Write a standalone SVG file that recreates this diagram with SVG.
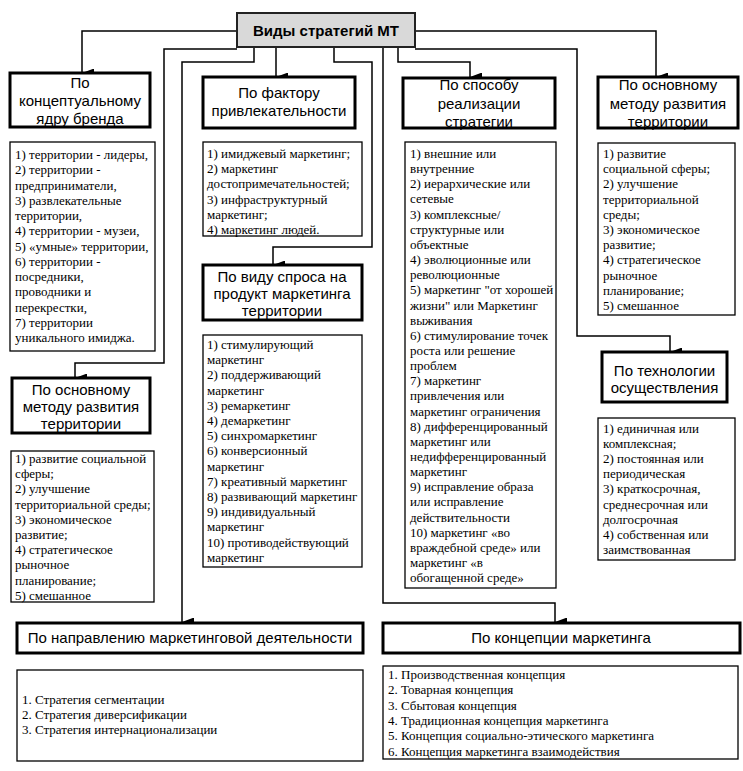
<svg xmlns="http://www.w3.org/2000/svg" width="743" height="771" viewBox="0 0 743 771">
<style>
.bg{fill:#fff}
.root{fill:#d9d9d9;stroke:#222;stroke-width:2}
.hdr{fill:#fff;stroke:#000;stroke-width:3}
.itm{fill:#fff;stroke:#000;stroke-width:1.3}
.rt{font-family:"Liberation Sans",Arial,sans-serif;font-size:15px;font-weight:bold;text-anchor:middle;fill:#000}
.ht{font-family:"Liberation Sans",Arial,sans-serif;font-size:15px;text-anchor:middle;fill:#000}
.it{font-family:"Liberation Serif","Times New Roman",serif;font-size:13px;fill:#000}
.conn path{fill:none;stroke:#000;stroke-width:1.5}
</style>
<defs>
<marker id="arr" markerUnits="userSpaceOnUse" markerWidth="10" markerHeight="12" refX="4.5" refY="12" orient="auto-start-reverse" viewBox="0 0 10 12">
<path d="M0,0 L9,0 L4.5,12 z" fill="#000"/>
</marker>
</defs>
<rect class="bg" x="0" y="0" width="743" height="771"/>

<g id="connectors" class="conn">
<path d="M237,31 H82 V73" marker-end="url(#arr)"/>
<path d="M254,47 V62 H182 V622" marker-end="url(#arr)"/>
<path d="M276,47 V77" marker-end="url(#arr)"/>
<path d="M334,47 V62 H372 V247 H273 V265" marker-end="url(#arr)"/>
<path d="M383,47 V603 H555 V622" marker-end="url(#arr)"/>
<path d="M398,47 V62 H470 V77" marker-end="url(#arr)"/>
<path d="M415,31 H656 V77" marker-end="url(#arr)"/>
<path d="M415,49 H577 V336 H670 V352" marker-end="url(#arr)"/>
<path d="M237,49 H164 V363 H75 V378" marker-end="url(#arr)"/>
</g>

<g id="root">
<rect class="root" x="237" y="13" width="178" height="34"/>
<text class="rt" x="326" y="36">Виды стратегий МТ</text>
</g>

<g id="brand-core">
<rect class="hdr" x="10" y="73" width="140" height="54"/>
<text class="ht"><tspan x="80" y="88">По</tspan><tspan x="80" y="106">концептуальному</tspan><tspan x="80" y="124">ядру бренда</tspan></text>
</g>
<g id="brand-core-items">
<rect class="itm" x="10" y="142" width="145" height="209"/>
<text class="it"><tspan x="15" y="159">1) территории - лидеры,</tspan><tspan x="15" dy="15.25">2) территории -</tspan><tspan x="15" dy="15.25">предприниматели,</tspan><tspan x="15" dy="15.25">3) развлекательные</tspan><tspan x="15" dy="15.25">территории,</tspan><tspan x="15" dy="15.25">4) территории - музеи,</tspan><tspan x="15" dy="15.25">5) «умные» территории,</tspan><tspan x="15" dy="15.25">6) территории -</tspan><tspan x="15" dy="15.25">посредники,</tspan><tspan x="15" dy="15.25">проводники и</tspan><tspan x="15" dy="15.25">перекрестки,</tspan><tspan x="15" dy="15.25">7) территории</tspan><tspan x="15" dy="15.25">уникального имиджа.</tspan></text>
</g>

<g id="attraction">
<rect class="hdr" x="203" y="77" width="152" height="51"/>
<text class="ht"><tspan x="279" y="98">По фактору</tspan><tspan x="279" y="116">привлекательности</tspan></text>
</g>
<g id="attraction-items">
<rect class="itm" x="203" y="142" width="159" height="94"/>
<text class="it"><tspan x="207" y="158">1) имиджевый маркетинг;</tspan><tspan x="207" dy="15.2">2) маркетинг</tspan><tspan x="207" dy="15.2">достопримечательностей;</tspan><tspan x="207" dy="15.2">3) инфраструктурный</tspan><tspan x="207" dy="15.2">маркетинг;</tspan><tspan x="207" dy="15.2">4) маркетинг людей.</tspan></text>
</g>

<g id="demand">
<rect class="hdr" x="203" y="265" width="159" height="55"/>
<text class="ht"><tspan x="282" y="282">По виду спроса на</tspan><tspan x="282" y="299">продукт маркетинга</tspan><tspan x="282" y="316">территории</tspan></text>
</g>
<g id="demand-items">
<rect class="itm" x="203" y="335" width="159" height="232"/>
<text class="it"><tspan x="207" y="349">1) стимулирующий</tspan><tspan x="207" dy="15.2">маркетинг</tspan><tspan x="207" dy="15.2">2) поддерживающий</tspan><tspan x="207" dy="15.2">маркетинг</tspan><tspan x="207" dy="15.2">3) ремаркетинг</tspan><tspan x="207" dy="15.2">4) демаркетинг</tspan><tspan x="207" dy="15.2">5) синхромаркетинг</tspan><tspan x="207" dy="15.2">6) конверсионный</tspan><tspan x="207" dy="15.2">маркетинг</tspan><tspan x="207" dy="15.2">7) креативный маркетинг</tspan><tspan x="207" dy="15.2">8) развивающий маркетинг</tspan><tspan x="207" dy="15.2">9) индивидуальный</tspan><tspan x="207" dy="15.2">маркетинг</tspan><tspan x="207" dy="15.2">10) противодействующий</tspan><tspan x="207" dy="15.2">маркетинг</tspan></text>
</g>

<g id="implementation">
<rect class="hdr" x="403" y="78" width="152" height="50"/>
<text class="ht"><tspan x="479" y="90">По способу</tspan><tspan x="479" y="109">реализации</tspan><tspan x="479" y="127">стратегии</tspan></text>
</g>
<g id="implementation-items">
<rect class="itm" x="405" y="142" width="151" height="446"/>
<text class="it"><tspan x="410" y="158">1) внешние или</tspan><tspan x="410" dy="15.15">внутренние</tspan><tspan x="410" dy="15.15">2) иерархические или</tspan><tspan x="410" dy="15.15">сетевые</tspan><tspan x="410" dy="15.15">3) комплексные/</tspan><tspan x="410" dy="15.15">структурные или</tspan><tspan x="410" dy="15.15">объектные</tspan><tspan x="410" dy="15.15">4) эволюционные или</tspan><tspan x="410" dy="15.15">революционные</tspan><tspan x="410" dy="15.15">5) маркетинг "от хорошей</tspan><tspan x="410" dy="15.15">жизни" или Маркетинг</tspan><tspan x="410" dy="15.15">выживания</tspan><tspan x="410" dy="15.15">6) стимулирование точек</tspan><tspan x="410" dy="15.15">роста или решение</tspan><tspan x="410" dy="15.15">проблем</tspan><tspan x="410" dy="15.15">7) маркетинг</tspan><tspan x="410" dy="15.15">привлечения или</tspan><tspan x="410" dy="15.15">маркетинг ограничения</tspan><tspan x="410" dy="15.15">8) дифференцированный</tspan><tspan x="410" dy="15.15">маркетинг или</tspan><tspan x="410" dy="15.15">недифференцированный</tspan><tspan x="410" dy="15.15">маркетинг</tspan><tspan x="410" dy="15.15">9) исправление образа</tspan><tspan x="410" dy="15.15">или исправление</tspan><tspan x="410" dy="15.15">действительности</tspan><tspan x="410" dy="15.15">10) маркетинг «во</tspan><tspan x="410" dy="15.15">враждебной среде» или</tspan><tspan x="410" dy="15.15">маркетинг «в</tspan><tspan x="410" dy="15.15">обогащенной среде»</tspan></text>
</g>

<g id="method-right">
<rect class="hdr" x="598" y="77" width="140" height="51"/>
<text class="ht"><tspan x="668" y="90">По основному</tspan><tspan x="668" y="109">методу развития</tspan><tspan x="668" y="127">территории</tspan></text>
</g>
<g id="method-right-items">
<rect class="itm" x="598" y="143" width="137" height="172"/>
<text class="it"><tspan x="603" y="158">1) развитие</tspan><tspan x="603" dy="15.2">социальной сферы;</tspan><tspan x="603" dy="15.2">2) улучшение</tspan><tspan x="603" dy="15.2">территориальной</tspan><tspan x="603" dy="15.2">среды;</tspan><tspan x="603" dy="15.2">3) экономическое</tspan><tspan x="603" dy="15.2">развитие;</tspan><tspan x="603" dy="15.2">4) стратегическое</tspan><tspan x="603" dy="15.2">рыночное</tspan><tspan x="603" dy="15.2">планирование;</tspan><tspan x="603" dy="15.2">5) смешанное</tspan></text>
</g>

<g id="technology">
<rect class="hdr" x="602" y="352" width="125" height="50"/>
<text class="ht"><tspan x="664.5" y="376">По технологии</tspan><tspan x="664.5" y="393">осуществления</tspan></text>
</g>
<g id="technology-items">
<rect class="itm" x="598" y="418" width="137" height="142"/>
<text class="it"><tspan x="603" y="433">1) единичная или</tspan><tspan x="603" dy="15.1">комплексная;</tspan><tspan x="603" dy="15.1">2) постоянная или</tspan><tspan x="603" dy="15.1">периодическая</tspan><tspan x="603" dy="15.1">3) краткосрочная,</tspan><tspan x="603" dy="15.1">среднесрочная или</tspan><tspan x="603" dy="15.1">долгосрочная</tspan><tspan x="603" dy="15.1">4) собственная или</tspan><tspan x="603" dy="15.1">заимствованная</tspan></text>
</g>

<g id="method-left">
<rect class="hdr" x="12" y="378" width="138" height="55"/>
<text class="ht"><tspan x="81" y="395">По основному</tspan><tspan x="81" y="412">методу развития</tspan><tspan x="81" y="429">территории</tspan></text>
</g>
<g id="method-left-items">
<rect class="itm" x="11" y="451" width="143" height="151"/>
<text class="it"><tspan x="15" y="463">1) развитие социальной</tspan><tspan x="15" dy="15.2">сферы;</tspan><tspan x="15" dy="15.2">2) улучшение</tspan><tspan x="15" dy="15.2">территориальной среды;</tspan><tspan x="15" dy="15.2">3) экономическое</tspan><tspan x="15" dy="15.2">развитие;</tspan><tspan x="15" dy="15.2">4) стратегическое</tspan><tspan x="15" dy="15.2">рыночное</tspan><tspan x="15" dy="15.2">планирование;</tspan><tspan x="15" dy="15.2">5) смешанное</tspan></text>
</g>

<g id="direction">
<rect class="hdr" x="17" y="623" width="346" height="30"/>
<text class="ht" x="190" y="643">По направлению маркетинговой деятельности</text>
</g>
<g id="direction-items">
<rect class="itm" x="17" y="670" width="346" height="91"/>
<text class="it"><tspan x="22" y="704">1. Стратегия сегментации</tspan><tspan x="22" dy="15">2. Стратегия диверсификации</tspan><tspan x="22" dy="15">3. Стратегия интернационализации</tspan></text>
</g>

<g id="concept">
<rect class="hdr" x="383" y="623" width="357" height="30"/>
<text class="ht" x="561" y="643">По концепции маркетинга</text>
</g>
<g id="concept-items">
<rect class="itm" x="383" y="666" width="355" height="93"/>
<text class="it"><tspan x="388" y="679">1. Производственная концепция</tspan><tspan x="388" dy="15.3">2. Товарная концепция</tspan><tspan x="388" dy="15.3">3. Сбытовая концепция</tspan><tspan x="388" dy="15.3">4. Традиционная концепция маркетинга</tspan><tspan x="388" dy="15.3">5. Концепция социально-этического маркетинга</tspan><tspan x="388" dy="15.3">6. Концепция маркетинга взаимодействия</tspan></text>
</g>
</svg>
